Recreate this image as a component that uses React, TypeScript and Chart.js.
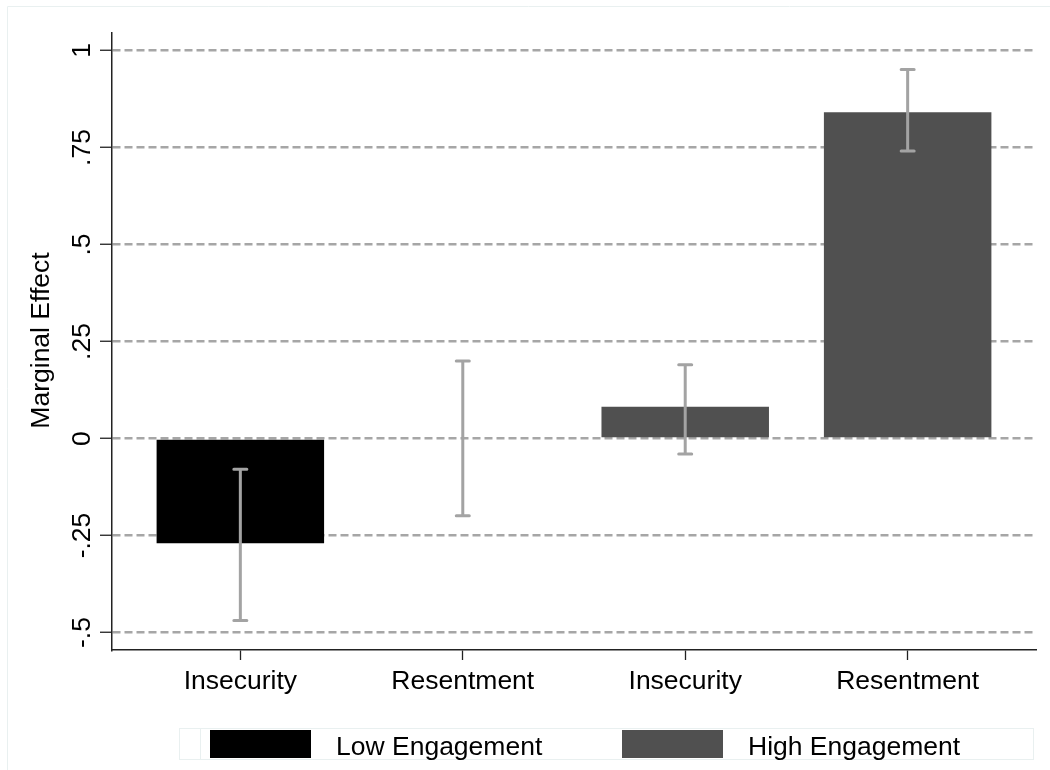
import React, { useEffect, useRef } from "react";
import { Chart, registerables } from "chart.js";

Chart.register(...registerables);

// ---- data ----
const categories = ["Insecurity", "Resentment", "Insecurity", "Resentment"];
const categoryPositions = [1, 2, 3, 4];
const lowEngagementIdx = [0, 1];
const lowEngagementValues = [-0.27, 0.0];
const highEngagementIdx = [2, 3];
const highEngagementValues = [0.082, 0.841];
const ciLower = [-0.469, -0.199, -0.04, 0.741];
const ciUpper = [-0.079, 0.2, 0.19, 0.951];
const yTickValues = [-0.5, -0.25, 0, 0.25, 0.5, 0.75, 1];
const yTickLabels = ["-.5", "-.25", "0", ".25", ".5", ".75", "1"];
const seriesNames = ["Low Engagement", "High Engagement"];
const seriesColors = ["#000000", "#505050"];
const yAxisTitle = "Marginal Effect";

const FONT = '26.5px "Liberation Sans", Arial, sans-serif';
const ERR_COLOR = "#a3a3a3";
const FAINT = "#e9f0f0";

const overlayPlugin = {
  id: "overlay",
  beforeDraw(chart: any) {
    const ctx = chart.ctx;
    ctx.save();
    ctx.strokeStyle = FAINT;
    ctx.lineWidth = 1;
    ctx.beginPath();
    ctx.moveTo(7.5, 1050);
    ctx.lineTo(7.5, 6.5);
    ctx.lineTo(1050, 6.5);
    ctx.stroke();
    ctx.restore();
  },
  afterDatasetsDraw(chart: any) {
    const ctx = chart.ctx;
    const xs = chart.scales.x;
    const ys = chart.scales.y;
    ctx.save();
    ctx.strokeStyle = ERR_COLOR;
    ctx.lineWidth = 3;
    ctx.lineCap = "round";
    categoryPositions.forEach((p, i) => {
      const x = xs.getPixelForValue(p);
      const y1 = ys.getPixelForValue(ciUpper[i]);
      const y2 = ys.getPixelForValue(ciLower[i]);
      ctx.beginPath();
      ctx.moveTo(x, y1);
      ctx.lineTo(x, y2);
      ctx.moveTo(x - 6.5, y1);
      ctx.lineTo(x + 6.5, y1);
      ctx.moveTo(x - 6.5, y2);
      ctx.lineTo(x + 6.5, y2);
      ctx.stroke();
    });
    ctx.restore();
  },
  afterDraw(chart: any) {
    const ctx = chart.ctx;
    const xs = chart.scales.x;
    const ys = chart.scales.y;
    const area = chart.chartArea;
    ctx.save();
    ctx.fillStyle = "#000";
    ctx.font = FONT;
    ctx.textBaseline = "alphabetic";

    // y tick labels (rotated)
    ctx.textAlign = "center";
    yTickValues.forEach((v, i) => {
      const y = ys.getPixelForValue(v);
      ctx.save();
      ctx.translate(90, y);
      ctx.rotate(-Math.PI / 2);
      ctx.fillText(yTickLabels[i], 0, 0);
      ctx.restore();
    });

    // y axis title
    ctx.save();
    ctx.translate(48.5, (area.top + area.bottom) / 2 - 1);
    ctx.rotate(-Math.PI / 2);
    ctx.fillText(yAxisTitle, 0, 0);
    ctx.restore();

    // x tick labels
    categoryPositions.forEach((p, i) => {
      ctx.fillText(categories[i], xs.getPixelForValue(p), 689);
    });

    // legend
    ctx.strokeStyle = FAINT;
    ctx.lineWidth = 1;
    ctx.strokeRect(179.5, 728.5, 854, 31);
    ctx.strokeRect(179.5, 728.5, 21, 31);
    const boxes = [
      { x: 210, tx: 336 },
      { x: 622, tx: 748 },
    ];
    ctx.textAlign = "left";
    boxes.forEach((b, i) => {
      ctx.fillStyle = seriesColors[i];
      ctx.fillRect(b.x, 730, 101, 28);
      ctx.fillStyle = "#000";
      ctx.fillText(seriesNames[i], b.tx, 755);
    });
    ctx.restore();
  },
};

export default function App() {
  const ref = useRef<HTMLCanvasElement | null>(null);

  useEffect(() => {
    if (!ref.current) return;
    const lowData = lowEngagementIdx.map((ci, k) => ({
      x: categoryPositions[ci],
      y: lowEngagementValues[k],
    }));
    const highData = highEngagementIdx.map((ci, k) => ({
      x: categoryPositions[ci],
      y: highEngagementValues[k],
    }));
    const chart = new Chart(ref.current, {
      type: "bar",
      data: {
        datasets: [
          {
            label: seriesNames[0],
            data: lowData,
            backgroundColor: seriesColors[0],
            borderWidth: 0,
            grouped: false,
            barPercentage: 0.753,
            categoryPercentage: 1,
          } as any,
          {
            label: seriesNames[1],
            data: highData,
            backgroundColor: seriesColors[1],
            borderWidth: 0,
            grouped: false,
            barPercentage: 0.753,
            categoryPercentage: 1,
          } as any,
        ],
      },
      options: {
        responsive: false,
        animation: false,
        devicePixelRatio: 1,
        layout: { padding: { top: 33, right: 14, left: 0, bottom: 0 } },
        plugins: {
          legend: { display: false },
          tooltip: { enabled: false },
        },
        scales: {
          x: {
            type: "linear",
            offset: false,
            min: 0.423,
            max: 4.577,
            afterBuildTicks: (s: any) => {
              s.ticks = categoryPositions.map((v) => ({ value: v }));
            },
            afterFit: (s: any) => {
              s.height = 120;
            },
            ticks: { display: false },
            grid: {
              offset: false,
              drawOnChartArea: false,
              drawTicks: true,
              tickLength: 10,
              tickColor: "#222",
              tickWidth: 1.3,
            },
            border: { display: true, color: "#222", width: 1.5 },
          },
          y: {
            type: "linear",
            min: -0.545,
            max: 1.045,
            afterBuildTicks: (s: any) => {
              s.ticks = yTickValues.map((v) => ({ value: v }));
            },
            afterFit: (s: any) => {
              s.width = 112;
            },
            ticks: { display: false },
            grid: {
              color: "#a6a6a6",
              lineWidth: 2.5,
              drawTicks: true,
              tickLength: 12,
              tickColor: "#222",
              tickWidth: 1.3,
              tickBorderDash: [],
            },
            border: { display: true, color: "#222", width: 1.5, dash: [8, 4], dashOffset: 0 },
          },
        },
      } as any,
      plugins: [overlayPlugin],
    });
    return () => chart.destroy();
  }, []);

  return (
    <div style={{ position: "absolute", left: 0, top: 0, width: 1050, height: 770, background: "#fff" }}>
      <canvas ref={ref} width={1050} height={770} style={{ display: "block" }} />
    </div>
  );
}
